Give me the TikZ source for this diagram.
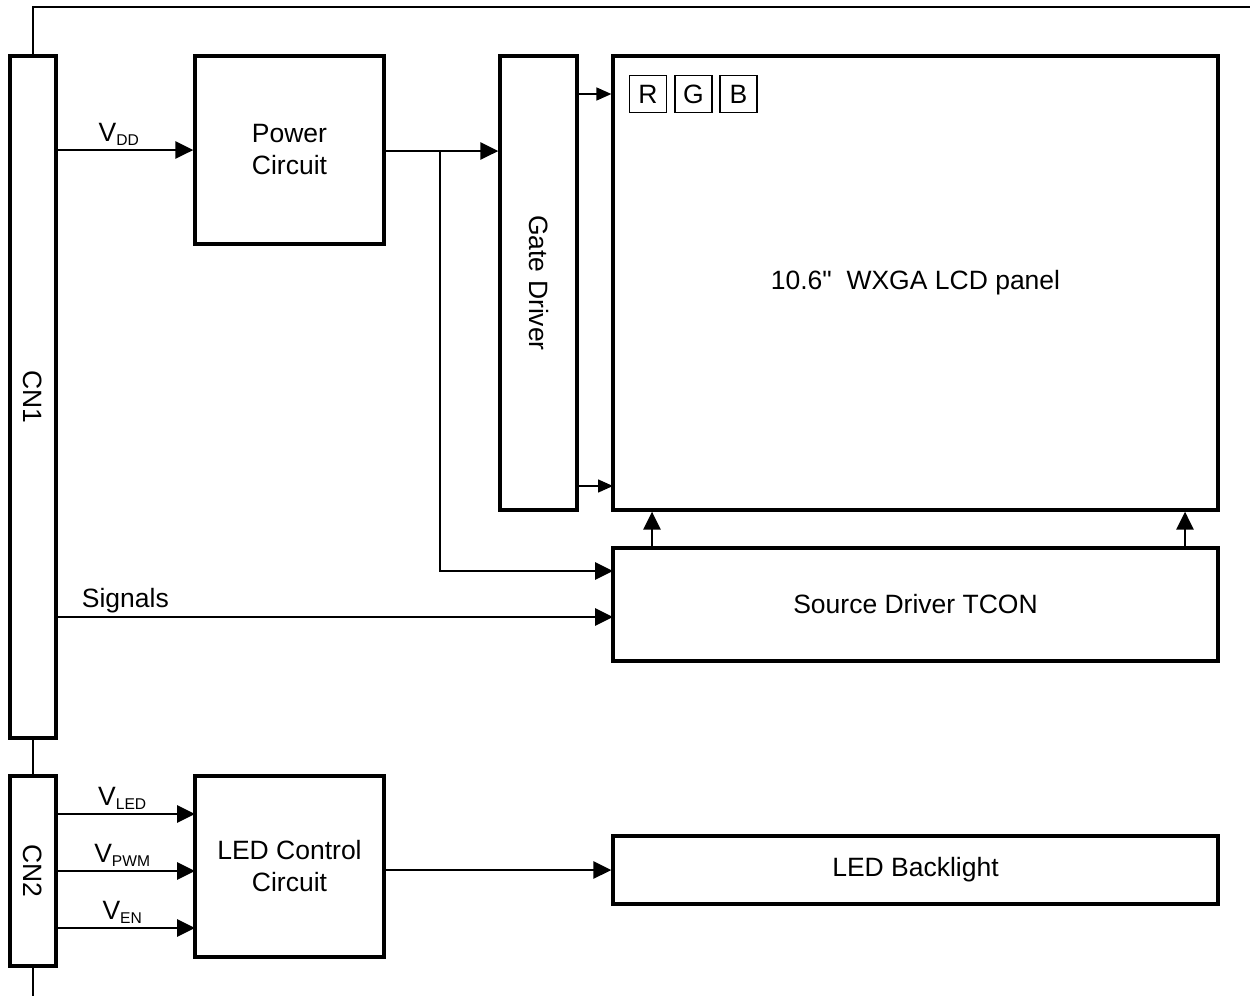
\documentclass[tikz,border=0pt]{standalone}
\usepackage{fontspec}
\setmainfont{Liberation Sans}[Ligatures=TeXOff]
\usetikzlibrary{arrows.meta}
\newcommand{\sbs}[1]{\raisebox{-2pt}{\fontsize{7.8}{8}\selectfont #1}}
\begin{document}
\begin{tikzpicture}[x=0.5pt,y=-0.5pt,
  every node/.style={font=\fontsize{13.25}{16}\selectfont},
  blk/.style={draw, line width=1.6pt, inner sep=0pt, align=center},
  cbox/.style={draw, line width=0.6pt, minimum width=18.5pt, minimum height=18.5pt, inner sep=0pt},
  arr/.style={line width=1.45pt, -{Triangle[length=9pt,width=8.5pt]}},
  tarr/.style={line width=0.75pt, -{Triangle[length=7.5pt,width=6.5pt]}},
  wire/.style={line width=0.7pt},
  lbl/.style={anchor=south, inner sep=1.5pt}]
\useasboundingbox (0,0) rectangle (1250,996);
% blocks
\node[blk, minimum width=23pt, minimum height=341pt] (cn1) at (33,397) {\rotatebox{-90}{CN1}};
\node[blk, minimum width=23pt, minimum height=95pt] (cn2) at (33,871) {\rotatebox{-90}{CN2}};
\node[blk, minimum width=94.5pt, minimum height=94pt] (pc) at (289.5,150) {Power\\Circuit};
\node[blk, minimum width=38.5pt, minimum height=227pt] (gd) at (538.5,283) {\rotatebox{-90}{Gate Driver}};
\node[blk, minimum width=302.5pt, minimum height=227pt] (lcd) at (915.5,283) {10.6"\ \ WXGA LCD panel};
\node[blk, minimum width=302.5pt, minimum height=56.5pt] (src) at (915.5,604.5) {Source Driver TCON};
\node[blk, minimum width=94.5pt, minimum height=90.5pt] (lc) at (289.5,866.5) {LED Control\\Circuit};
\node[blk, minimum width=302.5pt, minimum height=34pt] (bl) at (915.5,870) {LED Backlight};
\node[cbox] (r) at (648,94) {R};
\node[cbox] (g) at (693.5,94) {G};
\node[cbox] (b) at (738.5,94) {B};
% coordinates
\coordinate (topr) at (1252,7);
\coordinate (bot) at (33,998);
\coordinate (j) at (440,151);
\coordinate (s1) at (613,571);
\coordinate (s2) at (613,617);
\coordinate (g2) at (613,486);
\coordinate (u1) at (652,548);
\coordinate (u2) at (1185,548);
\coordinate (y1) at (195,814);
\coordinate (y2) at (195,871);
\coordinate (y3) at (195,928);
% wires
\draw[wire] (cn1.north) |- (topr);
\draw[wire] (cn1.south) -- (cn2.north);
\draw[wire] (cn2.south) -- (bot);
% arrows
\draw[arr] (cn1.east |- pc.west) -- node[lbl, pos=0.45]{V\sbs{DD}} (pc.west);
\draw[arr] (pc.east |- j) -- (gd.west |- j);
\draw[arr] (j) |- (s1);
\draw[arr] (cn1.east |- s2) -- node[lbl, pos=0.122]{Signals} (s2);
\draw[tarr] (gd.east |- r) -- (lcd.west |- r);
\draw[tarr] (gd.east |- g2) -- (g2);
\draw[arr] (u1) -- (lcd.south -| u1);
\draw[arr] (u2) -- (lcd.south -| u2);
\draw[arr] (cn2.east |- y1) -- node[lbl, pos=0.47]{V\sbs{LED}} (y1);
\draw[arr] (cn2.east |- y2) -- node[lbl, pos=0.47]{V\sbs{PWM}} (y2);
\draw[arr] (cn2.east |- y3) -- node[lbl, pos=0.47]{V\sbs{EN}} (y3);
\draw[arr] (lc.east |- bl.west) -- (bl.west);
\end{tikzpicture}
\end{document}
